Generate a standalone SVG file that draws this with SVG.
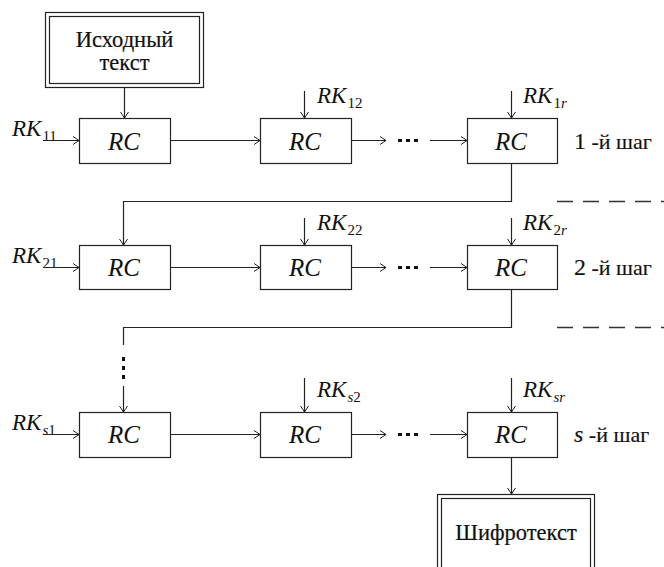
<svg xmlns="http://www.w3.org/2000/svg" width="664" height="567" viewBox="0 0 664 567" font-family="'Liberation Serif', 'Times New Roman', serif">
<defs>
<marker id="ah" markerWidth="8" markerHeight="10" refX="7" refY="5" orient="auto" markerUnits="userSpaceOnUse">
<path d="M1,1 L7,5 L1,9" fill="none" stroke="#222" stroke-width="1"/>
</marker>
</defs>
<style>
.box{fill:#fff;stroke:#222;stroke-width:1.2}
.ln{fill:none;stroke:#222;stroke-width:1.2}
.ar{fill:none;stroke:#222;stroke-width:1.2;marker-end:url(#ah)}
.dash{fill:none;stroke:#333;stroke-width:1.3;stroke-dasharray:16 10}
text{font-family:'Liberation Serif','Times New Roman',serif;fill:#111}
.rc{font-style:italic;font-size:25px;text-anchor:middle}
.rk{font-style:italic;font-size:23px}
.sub{font-size:15px;font-style:normal}
.it{font-style:italic}
.t{font-size:22.5px;text-anchor:middle;stroke:#111;stroke-width:0.2}
.step{font-size:22px;stroke:#111;stroke-width:0.15}
.dot{fill:#111}
</style>

<g id="source">
<rect class="box" x="45.5" y="12.5" width="158" height="75"/>
<rect class="box" x="49.5" y="16.5" width="150" height="67"/>
<text class="t" x="124.5" y="47">Исходный</text>
<text class="t" x="124.5" y="70">текст</text>
</g>

<g id="cipher">
<rect class="box" x="437.5" y="494.5" width="157" height="80"/>
<rect class="box" x="441.5" y="498.5" width="149" height="80"/>
<text class="t" x="516" y="540">Шифротекст</text>
</g>

<g id="rc11"><rect class="box" x="79.5" y="118.5" width="91" height="45"/><text class="rc" x="124" y="150">RC</text></g>
<g id="rc12"><rect class="box" x="260.5" y="118.5" width="91" height="45"/><text class="rc" x="305" y="150">RC</text></g>
<g id="rc1r"><rect class="box" x="467.5" y="118.5" width="90" height="45"/><text class="rc" x="511" y="150">RC</text></g>

<g id="rc21"><rect class="box" x="79.5" y="245.5" width="91" height="44"/><text class="rc" x="124" y="276">RC</text></g>
<g id="rc22"><rect class="box" x="260.5" y="245.5" width="91" height="44"/><text class="rc" x="305" y="276">RC</text></g>
<g id="rc2r"><rect class="box" x="467.5" y="245.5" width="90" height="44"/><text class="rc" x="511" y="276">RC</text></g>

<g id="rcs1"><rect class="box" x="79.5" y="412.5" width="91" height="45"/><text class="rc" x="124" y="443">RC</text></g>
<g id="rcs2"><rect class="box" x="260.5" y="412.5" width="91" height="45"/><text class="rc" x="305" y="443">RC</text></g>
<g id="rcsr"><rect class="box" x="467.5" y="412.5" width="90" height="45"/><text class="rc" x="511" y="443">RC</text></g>

<g id="labels">
<text class="rk" x="12" y="136">RK<tspan class="sub" dx="1" dy="5">11</tspan></text>
<text class="rk" x="317" y="103">RK<tspan class="sub" dx="1" dy="5">12</tspan></text>
<text class="rk" x="523" y="103">RK<tspan class="sub" dx="1" dy="5">1</tspan><tspan class="sub it">r</tspan></text>

<text class="rk" x="12" y="263">RK<tspan class="sub" dx="1" dy="5">21</tspan></text>
<text class="rk" x="317" y="230">RK<tspan class="sub" dx="1" dy="5">22</tspan></text>
<text class="rk" x="523" y="230">RK<tspan class="sub" dx="1" dy="5">2</tspan><tspan class="sub it">r</tspan></text>

<text class="rk" x="12" y="430">RK<tspan class="sub it" dx="1" dy="5">s</tspan><tspan class="sub">1</tspan></text>
<text class="rk" x="317" y="397">RK<tspan class="sub it" dx="1" dy="5">s</tspan><tspan class="sub">2</tspan></text>
<text class="rk" x="523" y="397">RK<tspan class="sub it" dx="1" dy="5">sr</tspan></text>

<text class="step" x="574" y="149"><tspan font-size="24">1</tspan> -й шаг</text>
<text class="step" x="574" y="275"><tspan font-size="24">2</tspan> -й шаг</text>
<text class="step" x="574" y="442"><tspan font-size="24" font-style="italic">s</tspan> -й шаг</text>
</g>

<g id="connectors">
<line class="ar" x1="124.5" y1="88" x2="124.5" y2="118"/>
<line class="ar" x1="43" y1="140.5" x2="79" y2="140.5"/>
<line class="ar" x1="171" y1="140.5" x2="260" y2="140.5"/>
<line class="ar" x1="352" y1="140.5" x2="386" y2="140.5"/>
<line class="ar" x1="430" y1="140.5" x2="467" y2="140.5"/>
<line class="ar" x1="304.5" y1="91" x2="304.5" y2="118"/>
<line class="ar" x1="511.5" y1="91" x2="511.5" y2="118"/>
<polyline class="ar" points="511.5,164 511.5,201.5 123.5,201.5 123.5,245"/>

<line class="ar" x1="43" y1="267.5" x2="79" y2="267.5"/>
<line class="ar" x1="171" y1="267.5" x2="260" y2="267.5"/>
<line class="ar" x1="352" y1="267.5" x2="386" y2="267.5"/>
<line class="ar" x1="430" y1="267.5" x2="467" y2="267.5"/>
<line class="ar" x1="304.5" y1="218" x2="304.5" y2="245"/>
<line class="ar" x1="511.5" y1="218" x2="511.5" y2="245"/>
<polyline class="ln" points="511.5,290 511.5,327.5 123.5,327.5 123.5,345"/>
<line class="ar" x1="123.5" y1="386" x2="123.5" y2="412"/>

<line class="ar" x1="43" y1="434.5" x2="79" y2="434.5"/>
<line class="ar" x1="171" y1="434.5" x2="260" y2="434.5"/>
<line class="ar" x1="352" y1="434.5" x2="386" y2="434.5"/>
<line class="ar" x1="430" y1="434.5" x2="467" y2="434.5"/>
<line class="ar" x1="304.5" y1="378" x2="304.5" y2="412"/>
<line class="ar" x1="511.5" y1="378" x2="511.5" y2="412"/>
<line class="ar" x1="511.5" y1="458" x2="511.5" y2="494"/>

<line class="dash" x1="557" y1="201.5" x2="664" y2="201.5"/>
<line class="dash" x1="557" y1="327.5" x2="664" y2="327.5"/>
</g>

<g id="ellipses">
<rect class="dot" x="398" y="139" width="4" height="3"/>
<rect class="dot" x="406" y="139" width="4" height="3"/>
<rect class="dot" x="414" y="139" width="4" height="3"/>
<rect class="dot" x="398" y="266" width="4" height="3"/>
<rect class="dot" x="406" y="266" width="4" height="3"/>
<rect class="dot" x="414" y="266" width="4" height="3"/>
<rect class="dot" x="398" y="433" width="4" height="3"/>
<rect class="dot" x="406" y="433" width="4" height="3"/>
<rect class="dot" x="414" y="433" width="4" height="3"/>
<rect class="dot" x="122" y="357" width="3" height="4"/>
<rect class="dot" x="122" y="366" width="3" height="4"/>
<rect class="dot" x="122" y="375" width="3" height="4"/>
</g>
</svg>
